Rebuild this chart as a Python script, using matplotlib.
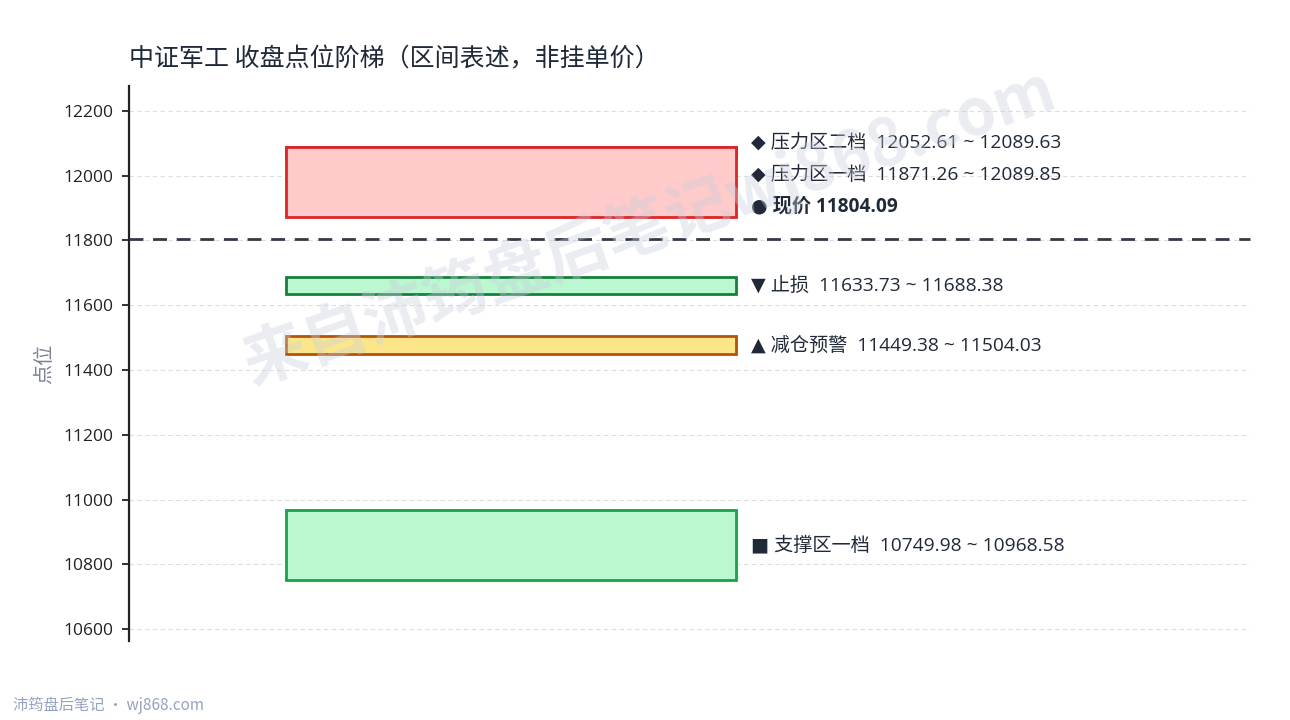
"""中证军工 收盘点位阶梯 - 区间示意图。"""

import matplotlib

matplotlib.use("Agg")
import matplotlib.pyplot as plt
from matplotlib.patches import Rectangle

CJK = "Noto Sans CJK SC"
LATIN = ["Open Sans", "DejaVu Sans", CJK]
plt.rcParams["font.family"] = [CJK, "DejaVu Sans"]
plt.rcParams["axes.unicode_minus"] = False

# %% Data
title = "中证军工 收盘点位阶梯（区间表述，非挂单价）"
current_price = 11804.09

zone_names = ["压力区二档", "压力区一档", "止损", "减仓预警", "支撑区一档"]
zone_low = [12052.61, 11871.26, 11633.73, 11449.38, 10749.98]
zone_high = [12089.63, 12089.85, 11688.38, 11504.03, 10968.58]
zone_marks = ["◆", "◆", "▼", "▲", "■"]
zone_kind = ["pressure", "pressure", "stop", "warn", "support"]

y_ticks = [10600, 10800, 11000, 11200, 11400, 11600, 11800, 12000, 12200]

# %% Styles
styles = {
    "pressure": {"face": "#fecaca", "edge": "#dc2626"},
    "stop": {"face": "#bbf7d0", "edge": "#15803d"},
    "warn": {"face": "#fde68a", "edge": "#b45309"},
    "support": {"face": "#bbf7d0", "edge": "#16a34a"},
}
text_color = "#1f2937"
box_x0, box_x1 = 0.14, 0.5415
label_x = 0.555
label_size = 13.8

# %% Plot
fig = plt.figure(figsize=(12.9, 7.2), dpi=100)
ax = fig.add_axes([0.1, 0.1097, 0.869, 0.7709])

ax.set_xlim(0, 1)
ax.set_ylim(10563, 12277)
ax.set_yticks(y_ticks)
ax.set_xticks([])
ax.tick_params(axis="y", length=5, width=1.3, pad=6, colors="#222222")
for lbl in ax.get_yticklabels():
    lbl.set_family(LATIN)
    lbl.set_fontsize(12.5)
for s in ["top", "right", "bottom"]:
    ax.spines[s].set_visible(False)
ax.spines["left"].set_linewidth(1.6)
ax.spines["left"].set_color("#222222")
ax.grid(axis="y", color="#dddddd", linestyle=(0, (4, 3)), linewidth=0.8)
ax.set_axisbelow(True)
ax.set_ylabel("点位", fontsize=14.5, color="#7a8394")
ax.yaxis.set_label_coords(-0.066, 0.5)

for name, lo, hi, mark, kind in zip(
    zone_names, zone_low, zone_high, zone_marks, zone_kind, strict=True
):
    st = styles[kind]
    ax.add_patch(
        Rectangle(
            (box_x0, lo),
            box_x1 - box_x0,
            hi - lo,
            facecolor=st["face"],
            edgecolor=st["edge"],
            linewidth=2,
            zorder=3,
        )
    )

# stacked labels above the current price for the pressure zones
top_labels = []
for name, lo, hi, mark, kind in zip(
    zone_names, zone_low, zone_high, zone_marks, zone_kind, strict=True
):
    txt = f"{mark} {name}  {lo:.2f} ~ {hi:.2f}"
    if kind == "pressure":
        top_labels.append(txt)
    else:
        ax.text(
            label_x, (lo + hi) / 2, txt, family=LATIN,
            fontsize=label_size, color=text_color, va="center", ha="left", zorder=4,
        )

step = 100
for k, txt in enumerate(top_labels):
    ax.text(
        label_x, current_price + step * (len(top_labels) + 1 - k), txt,
        family=LATIN, fontsize=label_size, color=text_color,
        va="center", ha="left", zorder=4,
    )
ax.text(
    label_x, current_price + step, f"● 现价 {current_price:.2f}",
    family=LATIN, fontsize=label_size, color=text_color, va="center",
    ha="left", fontweight="bold", zorder=4,
)

ax.axhline(
    current_price, color="#333a48", linewidth=2, linestyle=(0, (5, 3.5)),
    zorder=4, clip_on=False,
)

# watermark
fig.text(
    0.503, 0.685, "来自沛筠盘后笔记wj868.com", fontsize=46, fontweight="bold",
    color="#c8cfdb", alpha=0.38, rotation=19, ha="center", va="center",
    zorder=10,
)

fig.text(0.1, 0.9, title, fontsize=18, color=text_color, ha="left", va="bottom")
fig.text(0.01, 0.008, "沛筠盘后笔记 · wj868.com", fontsize=11, color="#94a3c0",
         ha="left", va="bottom")

fig.savefig("out.png", dpi=100)
